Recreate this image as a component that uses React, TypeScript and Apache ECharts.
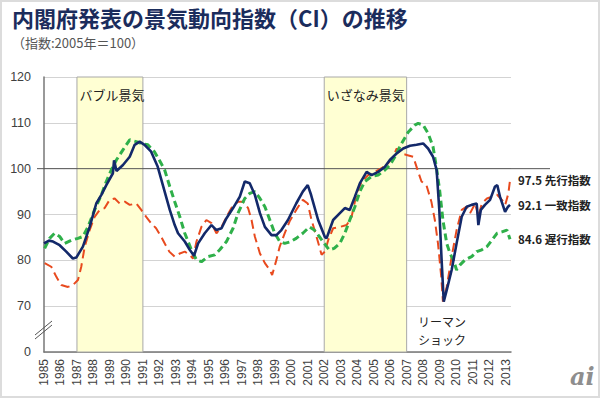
import React, { useEffect, useRef } from 'react';
import * as echarts from 'echarts';

const titleText = '内閣府発表の景気動向指数（CI）の推移';
const subtitleText = '（指数:2005年＝100）';
const seriesNames = ['先行指数', '一致指数', '遅行指数'];
const boomPeriods: [number, number, string][] = [
  [1987, 1991, 'バブル景気'],
  [2002, 2007, 'いざなみ景気'],
];
const lehmanText = 'リーマン\nショック';

// [year, index]
const leadingIndex: [number, number][] = [
  [1985.04, 79.4], [1985.44, 78.6], [1985.75, 76.4], [1986.05, 74.6], [1986.45, 74.2], [1986.75, 74.6],
  [1987.06, 75.7], [1987.26, 78.6], [1987.47, 83.0], [1987.77, 86.6], [1988.07, 89.5], [1988.38, 91.0],
  [1988.68, 91.4], [1988.98, 93.2], [1989.29, 93.5], [1989.59, 92.4], [1989.9, 92.8], [1990.2, 92.1],
  [1990.6, 92.4], [1990.9, 91.0], [1991.2, 89.5], [1991.5, 88.1], [1991.8, 87.0], [1992.1, 85.2],
  [1992.35, 83.5], [1992.6, 81.9], [1992.93, 80.8], [1993.24, 81.5], [1993.54, 81.9], [1993.84, 81.2],
  [1994.04, 80.4], [1994.25, 84.1], [1994.55, 87.3], [1994.85, 88.8], [1995.16, 88.1], [1995.46, 85.9],
  [1995.77, 87.3], [1996.07, 89.5], [1996.37, 91.4], [1996.77, 92.8], [1997.08, 92.8], [1997.38, 91.4],
  [1997.59, 88.8], [1997.79, 85.2], [1998.1, 81.5], [1998.4, 79.4], [1998.7, 77.9], [1998.84, 76.8],
  [1999.1, 80.1], [1999.3, 83.0], [1999.6, 85.9], [1999.9, 88.5], [2000.3, 91.0], [2000.7, 93.2],
  [2001.0, 92.4], [2001.23, 88.8], [2001.53, 85.2], [2001.84, 81.2], [2002.04, 81.9], [2002.24, 84.4],
  [2002.54, 87.0], [2002.95, 87.3], [2003.36, 87.7], [2003.66, 89.5], [2003.97, 94.6], [2004.27, 97.2],
  [2004.67, 98.6], [2005.07, 99.3], [2005.48, 100.1], [2005.88, 101.2], [2006.19, 102.6], [2006.39, 104.4],
  [2006.69, 103.3], [2007.0, 103.0], [2007.4, 102.6], [2007.7, 99.3], [2007.9, 97.2], [2008.2, 96.4],
  [2008.5, 92.8], [2008.71, 88.8], [2008.9, 83.7], [2009.1, 76.4], [2009.2, 71.0], [2009.43, 74.2],
  [2009.73, 80.8], [2010.03, 86.6], [2010.34, 91.0], [2010.64, 91.7], [2010.85, 90.3], [2011.16, 92.4],
  [2011.35, 89.5], [2011.56, 92.4], [2011.87, 93.5], [2012.17, 93.9], [2012.48, 94.3], [2012.78, 93.2],
  [2012.98, 92.1], [2013.17, 94.6], [2013.27, 97.5],
];

const coincidentIndex: [number, number][] = [
  [1985.0, 83.7], [1985.3, 84.3], [1985.55, 84.1], [1985.95, 83.3], [1986.35, 81.9], [1986.75, 80.4],
  [1986.96, 80.6], [1987.36, 83.0], [1987.77, 87.3], [1988.17, 92.4], [1988.48, 94.3], [1988.78, 96.4],
  [1989.18, 99.0], [1989.25, 101.8], [1989.4, 99.5], [1989.79, 100.8], [1990.2, 102.6], [1990.5, 105.2],
  [1990.8, 105.9], [1991.1, 105.2], [1991.5, 103.7], [1991.9, 100.4], [1992.32, 95.0], [1992.63, 91.0],
  [1992.93, 87.7], [1993.13, 85.9], [1993.54, 84.1], [1993.84, 82.3], [1994.1, 81.0], [1994.35, 83.7],
  [1994.75, 85.9], [1995.16, 87.7], [1995.46, 86.6], [1995.77, 87.0], [1996.07, 89.2], [1996.47, 91.4],
  [1996.88, 93.9], [1997.18, 97.2], [1997.48, 96.8], [1997.79, 94.3], [1998.1, 90.3], [1998.4, 87.3],
  [1998.8, 85.5], [1999.1, 85.5], [1999.4, 86.6], [1999.8, 88.8], [2000.3, 92.4], [2000.7, 95.0],
  [2001.0, 96.4], [2001.2, 94.3], [2001.63, 88.8], [2002.04, 85.1], [2002.14, 84.8], [2002.54, 88.8],
  [2002.95, 90.3], [2003.25, 91.4], [2003.55, 91.0], [2003.86, 93.9], [2004.16, 96.8], [2004.57, 99.3],
  [2004.87, 98.6], [2005.27, 99.3], [2005.68, 100.4], [2005.98, 101.9], [2006.39, 103.3], [2006.79, 104.4],
  [2007.2, 105.0], [2007.6, 105.2], [2008.0, 105.5], [2008.3, 104.4], [2008.6, 102.6], [2008.82, 99.7],
  [2008.98, 91.0], [2009.12, 80.1], [2009.25, 71.0], [2009.43, 73.5], [2009.73, 77.9], [2010.03, 83.7],
  [2010.34, 89.5], [2010.64, 91.7], [2010.94, 92.1], [2011.25, 92.4], [2011.35, 87.7], [2011.5, 91.0],
  [2011.75, 92.1], [2012.06, 93.2], [2012.36, 96.1], [2012.5, 96.4], [2012.66, 93.9], [2012.97, 90.6],
  [2013.15, 91.7], [2013.27, 92.1],
];

const laggingIndex: [number, number][] = [
  [1985.04, 82.6], [1985.34, 84.8], [1985.64, 85.9], [1985.95, 85.2], [1986.25, 83.7], [1986.66, 84.4],
  [1987.06, 84.8], [1987.36, 85.2], [1987.67, 87.3], [1988.07, 91.0], [1988.48, 94.3], [1988.78, 97.2],
  [1989.08, 99.7], [1989.39, 101.9], [1989.79, 104.1], [1990.2, 106.3], [1990.6, 105.9], [1990.9, 105.5],
  [1991.3, 105.2], [1991.7, 103.7], [1992.1, 101.2], [1992.32, 99.7], [1992.63, 96.1], [1992.93, 92.8],
  [1993.24, 89.5], [1993.54, 85.9], [1993.94, 82.3], [1994.25, 80.1], [1994.55, 79.7], [1994.95, 80.8],
  [1995.36, 81.2], [1995.66, 82.3], [1996.07, 84.1], [1996.47, 87.0], [1996.77, 90.3], [1997.18, 93.5],
  [1997.48, 94.6], [1997.79, 95.0], [1998.1, 93.5], [1998.4, 91.7], [1998.7, 88.8], [1999.0, 85.9],
  [1999.3, 84.1], [1999.6, 83.7], [1999.9, 84.0], [2000.3, 84.8], [2000.7, 85.9], [2001.1, 87.3],
  [2001.4, 86.6], [2001.7, 85.2], [2002.0, 83.7], [2002.3, 82.3], [2002.6, 82.6], [2002.95, 83.7],
  [2003.25, 85.9], [2003.55, 88.8], [2003.86, 91.7], [2004.16, 95.0], [2004.46, 97.2], [2004.87, 98.3],
  [2005.27, 98.6], [2005.68, 99.7], [2005.98, 100.8], [2006.29, 102.6], [2006.69, 105.5], [2007.1, 108.0],
  [2007.5, 109.5], [2007.7, 109.9], [2008.0, 109.5], [2008.3, 107.7], [2008.6, 104.8], [2008.8, 100.4],
  [2009.0, 95.3], [2009.2, 88.8], [2009.43, 83.7], [2009.63, 81.5], [2009.83, 80.1], [2010.03, 77.9],
  [2010.24, 79.0], [2010.54, 80.1], [2010.94, 80.8], [2011.25, 81.9], [2011.56, 82.3], [2011.87, 83.0],
  [2012.17, 84.4], [2012.48, 85.9], [2012.78, 86.2], [2013.08, 86.6], [2013.27, 84.6],
];

const yTickValues = [60, 70, 80, 90, 100, 110, 120];
const yTickLabels = ['0', '70', '80', '90', '100', '110', '120'];

export default function App() {
  const ref = useRef<HTMLDivElement>(null);

  useEffect(() => {
    if (!ref.current) return;
    const chart = echarts.init(ref.current, null, { renderer: 'svg' });
    const num = "'Liberation Sans', Arial, 'Noto Sans CJK JP', sans-serif";
    const jp = "'Noto Sans CJK JP', sans-serif";

    const endLabel = (name: string) => ({
      show: true,
      formatter: (p: any) => `${Number(p.value[1]).toFixed(1)} ${name}`,
      color: '#222',
      fontWeight: 'bold',
      fontSize: 11.5,
      fontFamily: jp,
      distance: 8,
    });

    chart.setOption({
      animation: false,
      backgroundColor: '#ffffff',
      grid: { left: 44, right: 89, top: 77, bottom: 46 },
      xAxis: {
        type: 'value',
        min: 1985,
        max: 2013.33,
        interval: 1,
        axisLine: { lineStyle: { color: '#777', width: 1.5 } },
        axisTick: { show: false },
        splitLine: { show: false },
        axisLabel: {
          rotate: 90,
          margin: 7,
          fontSize: 12,
          color: '#404040',
          fontFamily: num,
          showMaxLabel: false,
          formatter: (v: number) => (Math.abs(v - Math.round(v)) < 1e-6 ? String(Math.round(v)) : ''),
        },
      },
      yAxis: {
        type: 'value',
        min: 60,
        max: 120,
        interval: 10,
        axisLine: { show: true, lineStyle: { color: '#777', width: 1.5 } },
        axisTick: { show: false },
        splitLine: { lineStyle: { color: '#d3d3d3', width: 1 } },
        axisLabel: {
          margin: 13,
          fontSize: 12.5,
          color: '#404040',
          fontFamily: num,
          formatter: (v: number) => {
            const i = yTickValues.indexOf(Math.round(v));
            return i >= 0 ? yTickLabels[i] : '';
          },
        },
      },
      series: [
        {
          type: 'line',
          data: [],
          z: -1,
          silent: true,
          markArea: {
            silent: true,
            itemStyle: { color: '#ffffd3', borderColor: '#a8a8a8', borderWidth: 1 },
            label: {
              show: true,
              position: [3, 11],
              fontSize: 13,
              color: '#222',
              fontFamily: jp,
            },
            data: boomPeriods.map(([a, b, name]) => [{ xAxis: a, name }, { xAxis: b }]),
          },
        },
        {
          name: seriesNames[0],
          type: 'line',
          data: leadingIndex,
          showSymbol: false,
          symbol: 'none',
          z: 3,
          lineStyle: { color: '#e84a1e', width: 2, type: [9, 5] },
          endLabel: endLabel(seriesNames[0]),
        },
        {
          name: seriesNames[2],
          type: 'line',
          data: laggingIndex,
          showSymbol: false,
          symbol: 'none',
          z: 4,
          lineStyle: { color: '#2fb04a', width: 3, type: [7, 4] },
          endLabel: endLabel(seriesNames[2]),
        },
        {
          name: seriesNames[1],
          type: 'line',
          data: coincidentIndex,
          showSymbol: false,
          symbol: 'none',
          z: 5,
          lineStyle: { color: '#13296a', width: 2.6 },
          endLabel: endLabel(seriesNames[1]),
        },
      ],
    });

    const y100 = chart.convertToPixel({ yAxisIndex: 0 }, 100) as number;
    chart.setOption({
      graphic: [
        {
          type: 'rect',
          shape: { x: 1, y: 1, width: 598, height: 396 },
          style: { fill: 'none', stroke: '#dcdcdc', lineWidth: 2 },
          silent: true,
          z: 0,
        },
        {
          type: 'text',
          left: 12,
          top: 5,
          style: {
            text: titleText,
            fontSize: 22,
            lineHeight: 24,
            fontWeight: 'bold',
            fontFamily: jp,
            fill: '#1b2c5c',
          },
          z: 10,
        },
        {
          type: 'text',
          left: 12,
          top: 35,
          style: {
            text: subtitleText,
            fontSize: 13,
            lineHeight: 14,
            fontFamily: jp,
            fill: '#555',
          },
          z: 10,
        },
        {
          type: 'line',
          shape: { x1: 37, y1: y100, x2: 550, y2: y100 },
          style: { stroke: '#555', lineWidth: 1 },
          silent: true,
          z: 1,
        },
        {
          type: 'line',
          shape: { x1: 35, y1: 335, x2: 52, y2: 321 },
          style: { stroke: '#555', lineWidth: 1 },
          silent: true,
          z: 2,
        },
        {
          type: 'line',
          shape: { x1: 35, y1: 339, x2: 52, y2: 325 },
          style: { stroke: '#555', lineWidth: 1 },
          silent: true,
          z: 2,
        },
        {
          type: 'text',
          left: 418,
          top: 313,
          style: {
            text: lehmanText,
            fontSize: 12,
            lineHeight: 17.5,
            fontFamily: jp,
            fill: '#222',
          },
          z: 10,
        },
        {
          type: 'text',
          left: 570,
          top: 364,
          style: {
            text: 'ai',
            fontSize: 24,
            fontStyle: 'italic',
            fontWeight: 'bold',
            fontFamily: "'DejaVu Serif', serif",
            fill: '#8e8e8e',
          },
          z: 10,
        },
      ],
    });

    return () => chart.dispose();
  }, []);

  return (
    <div
      ref={ref}
      style={{ position: 'absolute', left: 0, top: 0, width: 600, height: 398 }}
    />
  );
}
